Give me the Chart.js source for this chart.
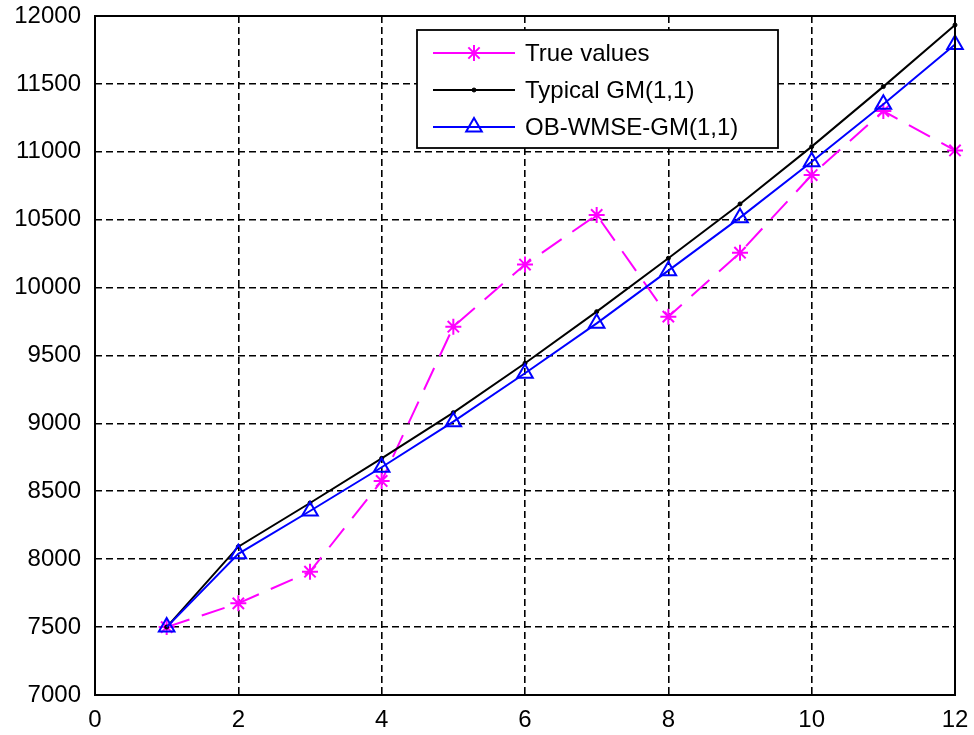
<!DOCTYPE html>
<html>
<head>
<meta charset="utf-8">
<script src="https://cdn.jsdelivr.net/npm/chart.js@4/dist/chart.umd.min.js"></script>
<style>
  html, body { margin: 0; padding: 0; background: #ffffff; }
  #wrap { width: 974px; height: 735px; position: relative; }
</style>
</head>
<body>
<div id="wrap"><canvas id="c" width="974" height="735"></canvas></div>
<script>
// ---- data ----
const xValues = [1, 2, 3, 4, 5, 6, 7, 8, 9, 10, 11, 12];
const trueValues = [7500, 7675, 7908, 8576, 9712, 10170, 10535, 9786, 10257, 10829, 11300, 11010];
const typicalGM = [7500, 8092, 8414, 8743, 9079, 9443, 9823, 10216, 10616, 11038, 11480, 11934];
const obWmseGM = [7500, 8040, 8355, 8677, 9013, 9369, 9737, 10125, 10515, 10927, 11350, 11790];
const seriesLabels = ['True values', 'Typical GM(1,1)', 'OB-WMSE-GM(1,1)'];
const xTicks = [0, 2, 4, 6, 8, 10, 12];
const yTicks = [7000, 7500, 8000, 8500, 9000, 9500, 10000, 10500, 11000, 11500, 12000];

const FONT = '"Liberation Sans", Arial, Helvetica, sans-serif';

function toXY(ys) { return xValues.map((x, i) => ({ x: x, y: ys[i] })); }

const boxPlugin = {
  id: 'boxPlugin',
  afterDatasetsDraw(chart) {
    const ctx = chart.ctx, a = chart.chartArea;
    ctx.save();
    ctx.strokeStyle = '#000';
    ctx.lineWidth = 2;
    ctx.setLineDash([]);
    ctx.strokeRect(a.left, a.top, a.right - a.left, a.bottom - a.top);
    ctx.restore();
  }
};

const legendPlugin = {
  id: 'legendPlugin',
  afterDraw(chart) {
    const ctx = chart.ctx;
    const bx = 417, by = 30, bw = 361, bh = 118;
    ctx.save();
    ctx.fillStyle = '#fff';
    ctx.fillRect(bx, by, bw, bh);
    ctx.strokeStyle = '#000';
    ctx.lineWidth = 1.8;
    ctx.setLineDash([]);
    ctx.strokeRect(bx, by, bw, bh);
    const rows = [53, 90, 127];
    chart.data.datasets.forEach((ds, i) => {
      const y = rows[i];
      ctx.save();
      ctx.strokeStyle = ds.borderColor;
      ctx.lineWidth = ds.borderWidth;
      ctx.setLineDash([]);
      ctx.beginPath();
      ctx.moveTo(433, y);
      ctx.lineTo(515, y);
      ctx.stroke();
      ctx.restore();
      ctx.save();
      ctx.strokeStyle = ds.pointBorderColor;
      ctx.fillStyle = ds.pointBackgroundColor;
      ctx.lineWidth = ds.pointBorderWidth;
      Chart.helpers.drawPoint(ctx, { pointStyle: ds.pointStyle, radius: ds.pointRadius, borderWidth: ds.pointBorderWidth, rotation: 0 }, 474, y);
      ctx.restore();
      ctx.fillStyle = '#000';
      ctx.font = '24px ' + FONT;
      ctx.textBaseline = 'middle';
      ctx.textAlign = 'left';
      ctx.fillText(ds.label, 525, y + 1);
    });
    ctx.restore();
  }
};

new Chart(document.getElementById('c'), {
  type: 'line',
  data: {
    datasets: [
      {
        label: seriesLabels[0],
        data: toXY(trueValues),
        borderColor: '#ff00ff',
        borderWidth: 2,
        borderDash: [24, 13],
        pointStyle: 'star',
        pointRadius: 8,
        pointBorderColor: '#ff00ff',
        pointBackgroundColor: '#ff00ff',
        pointBorderWidth: 2,
        tension: 0,
        fill: false,
        clip: false,
        order: 3
      },
      {
        label: seriesLabels[1],
        data: toXY(typicalGM),
        borderColor: '#000000',
        borderWidth: 2,
        pointStyle: 'circle',
        pointRadius: 2,
        pointBorderColor: '#000000',
        pointBackgroundColor: '#000000',
        pointBorderWidth: 1,
        tension: 0,
        fill: false,
        clip: false,
        order: 2
      },
      {
        label: seriesLabels[2],
        data: toXY(obWmseGM),
        borderColor: '#0000ff',
        borderWidth: 2,
        pointStyle: 'triangle',
        pointRadius: 9,
        pointBorderColor: '#0000ff',
        pointBackgroundColor: 'rgba(0,0,0,0)',
        pointBorderWidth: 2,
        tension: 0,
        fill: false,
        clip: false,
        order: 1
      }
    ]
  },
  options: {
    responsive: false,
    animation: false,
    devicePixelRatio: 1,
    layout: { padding: { top: 16, right: 19, left: 0, bottom: 0 } },
    plugins: { legend: { display: false }, tooltip: { enabled: false } },
    scales: {
      x: {
        type: 'linear',
        min: 0, max: 12,
        afterFit(scale) { scale.height = 40; scale.paddingLeft = 0; scale.paddingRight = 0; },
        afterBuildTicks(scale) { scale.ticks = xTicks.map(v => ({ value: v })); },
        ticks: { color: '#000', font: { family: FONT, size: 24 }, padding: 11, maxRotation: 0, autoSkip: false,
                 callback: v => String(v) },
        grid: { color: '#000', lineWidth: 1.6, drawTicks: false },
        border: { display: false, dash: [7, 4] }
      },
      y: {
        type: 'linear',
        min: 7000, max: 12000,
        afterFit(scale) { scale.width = 95; scale.paddingTop = 0; scale.paddingBottom = 0; },
        afterBuildTicks(scale) { scale.ticks = yTicks.map(v => ({ value: v })); },
        ticks: { color: '#000', font: { family: FONT, size: 24 }, padding: 14, autoSkip: false,
                 callback: v => String(v) },
        grid: { color: '#000', lineWidth: 1.6, drawTicks: false },
        border: { display: false, dash: [7, 4] }
      }
    }
  },
  plugins: [boxPlugin, legendPlugin]
});
</script>
</body>
</html>
